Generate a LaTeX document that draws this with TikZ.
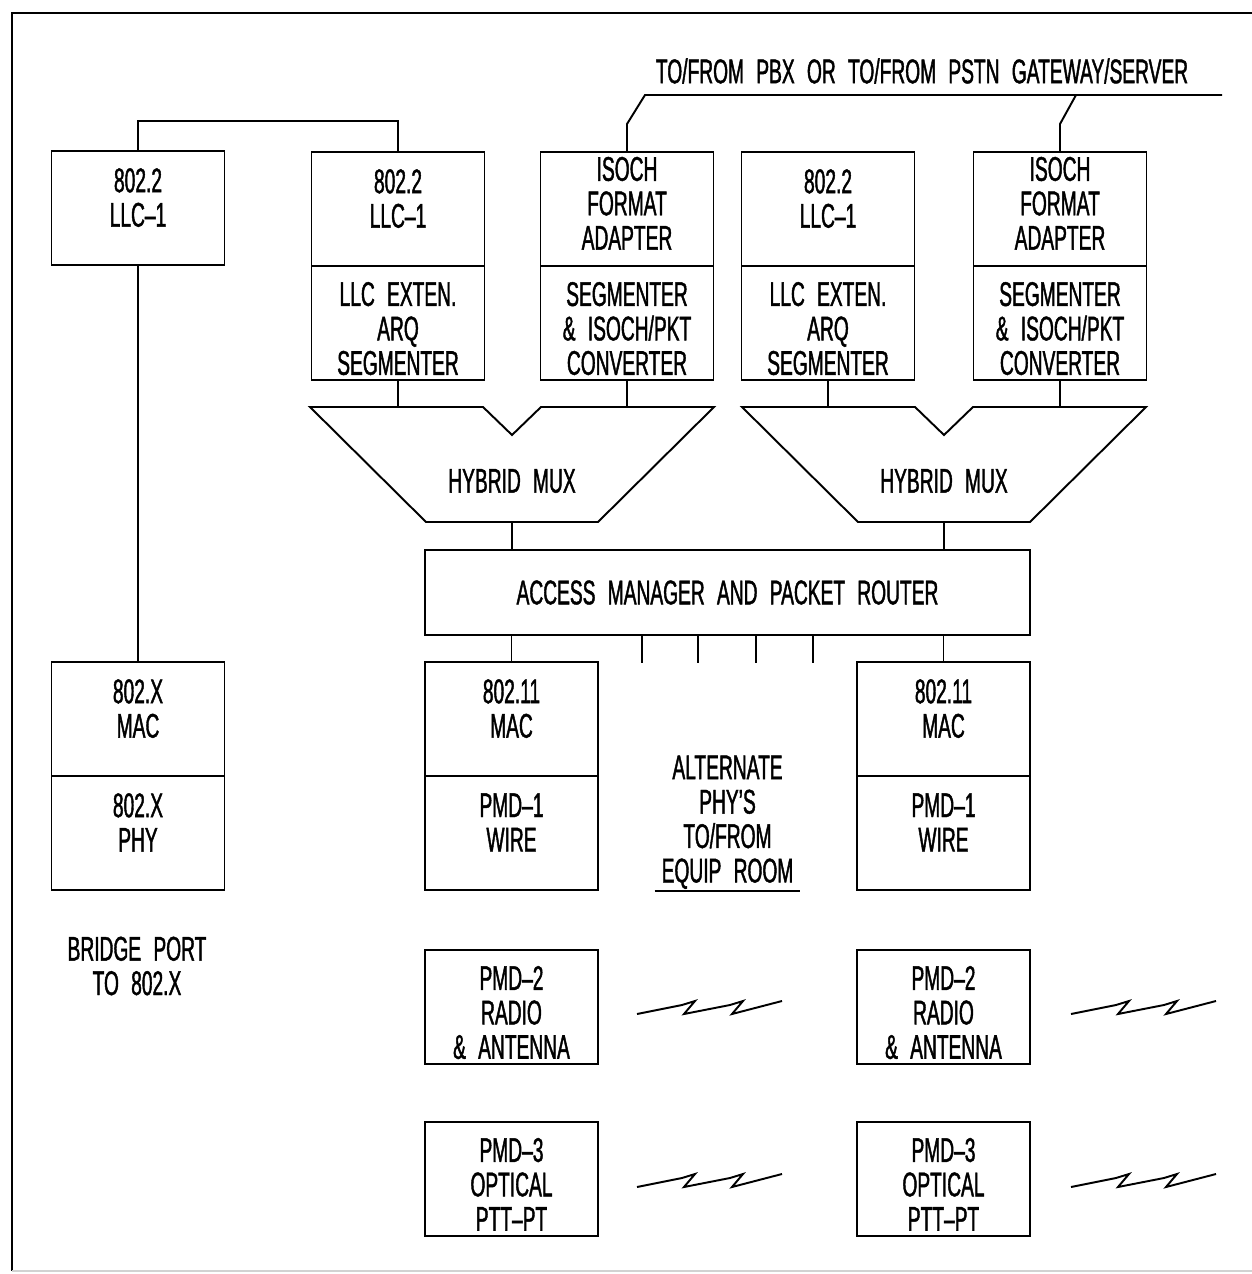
\documentclass[tikz,border=0pt]{standalone}
\usepackage{fontspec}
\setmainfont{Liberation Sans}[FakeStretch=0.56,WordSpace=2.3,FakeBold=1.2]
\usepackage{tikz}
\usetikzlibrary{positioning}

\begin{document}
\begin{tikzpicture}[
  x=0.02cm, y=-0.02cm,
  font=\fontsize{19.5}{19.6}\selectfont,
  every node/.style={align=center},
  box/.style={
    draw, line width=1.1pt, inner sep=0pt, outer sep=0pt,
    minimum width=3.46cm, minimum height=2.28cm
  },
  hi/.style={text depth=12pt},
  mid/.style={text depth=6.5pt},
  lo/.style={text height=59pt, text depth=0pt},
  bar/.style={
    draw, line width=1.1pt, inner sep=0pt, outer sep=0pt,
    minimum width=12.1cm, minimum height=1.7cm
  },
  wire/.style={line width=1.1pt},
  frame/.style={line width=1.6pt},
  zig/.pic={\draw[wire] (0,0) -- (45,-9) -- (58,-13) -- (47,0) -- (93,-9) -- (106,-13) -- (95,0) -- (145,-13);}
]
\useasboundingbox (0,0) rectangle (1251,1274);
\draw[frame] (1262,13) -- (12,13) -- (12,1271);
\draw[gray!35, line width=1pt] (12,1271) -- (1262,1271);

\node (pbx) at (922,71) {TO/FROM PBX OR TO/FROM PSTN GATEWAY/SERVER};
\coordinate (pbxend) at (1222,95);

\node[box, hi] (llcA) at (138,208) {802.2\\LLC--1};
\node[box, hi] (llcB) at (398,209) {802.2\\LLC--1};
\node[box, lo, below=0pt of llcB] (arqB) {LLC EXTEN.\\ARQ\\SEGMENTER};
\node[box, mid] (isoC) at (627,209) {ISOCH\\FORMAT\\ADAPTER};
\node[box, lo, below=0pt of isoC] (segC) {SEGMENTER\\\& ISOCH/PKT\\CONVERTER};
\node[box, hi] (llcD) at (828,209) {802.2\\LLC--1};
\node[box, lo, below=0pt of llcD] (arqD) {LLC EXTEN.\\ARQ\\SEGMENTER};
\node[box, mid] (isoE) at (1060,209) {ISOCH\\FORMAT\\ADAPTER};
\node[box, lo, below=0pt of isoE] (segE) {SEGMENTER\\\& ISOCH/PKT\\CONVERTER};

\foreach \cx/\nm in {512/muxL, 944/muxR} {
  \draw[wire] (\cx-202,407) -- (\cx-29,407) -- (\cx,435) -- (\cx+29,407) -- (\cx+202,407)
    -- (\cx+86,522) -- (\cx-86,522) -- cycle;
  \node (\nm) at (\cx,481) {HYBRID MUX};
  \coordinate (\nm-top) at (\cx,407);
  \coordinate (\nm-bot) at (\cx,522);
}

\node[bar] (access) at (727.5,592.5) {ACCESS MANAGER AND PACKET ROUTER};

\node[box, hi] (macX) at (138,719) {802.X\\MAC};
\node[box, hi, below=0pt of macX] (phyX) {802.X\\PHY};
\node[box, hi] (macL) at (511.5,719) {802.11\\MAC};
\node[box, hi, below=0pt of macL] (pmdL1) {PMD--1\\WIRE};
\node[box, lo, below=1.2cm of pmdL1] (pmdL2) {PMD--2\\RADIO\\\& ANTENNA};
\node[box, lo, below=1.16cm of pmdL2] (pmdL3) {PMD--3\\OPTICAL\\PTT--PT};
\node[box, hi] (macR) at (943.5,719) {802.11\\MAC};
\node[box, hi, below=0pt of macR] (pmdR1) {PMD--1\\WIRE};
\node[box, lo, below=1.2cm of pmdR1] (pmdR2) {PMD--2\\RADIO\\\& ANTENNA};
\node[box, lo, below=1.16cm of pmdR2] (pmdR3) {PMD--3\\OPTICAL\\PTT--PT};

\node[anchor=south, minimum width=2.9cm, inner ysep=1pt] (alt) at (727.5,891)
  {ALTERNATE\\PHY'S\\TO/FROM\\EQUIP ROOM};
\node (bridge) at (137,966) {BRIDGE PORT\\TO 802.X};

\draw[wire] (llcA.north) -- ++(0,-30) -| (llcB.north);
\draw[wire] (llcA.south) -- (macX.north);
\draw[wire] (isoC.north) -- ++(0,-28) -- ++(18,-29) -- (pbxend);
\draw[wire] (isoE.north) -- ++(0,-28) -- ++(16,-29);
\draw[wire] (arqB.south) -- (arqB.south |- muxL-top);
\draw[wire] (segC.south) -- (segC.south |- muxL-top);
\draw[wire] (arqD.south) -- (arqD.south |- muxR-top);
\draw[wire] (segE.south) -- (segE.south |- muxR-top);
\draw[wire] (muxL-bot) -- (muxL-bot |- access.north);
\draw[wire] (muxR-bot) -- (muxR-bot |- access.north);
\draw[wire] (access.south -| macL.north) -- (macL.north);
\draw[wire] (access.south -| macR.north) -- (macR.north);
\foreach \tx in {642,698,756,813}
  \draw[wire] ({\tx},635) -- ({\tx},663);
\draw[wire] (alt.south west) -- (alt.south east);

\foreach \zx/\zy in {637/1014, 1071/1014, 637/1187, 1071/1187}
  \pic at (\zx,\zy) {zig};

\end{tikzpicture}
\end{document}
